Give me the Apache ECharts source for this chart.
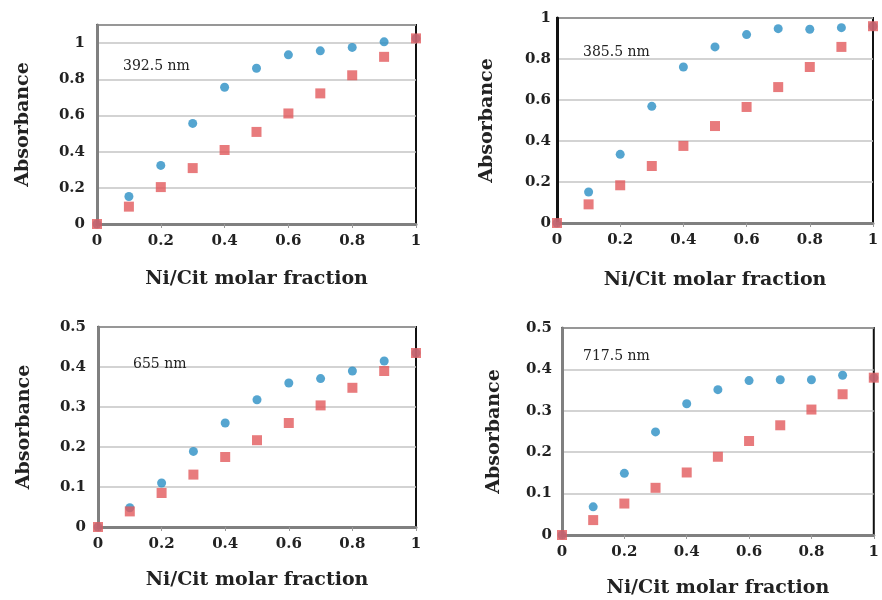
<!DOCTYPE html>
<html><head><meta charset="utf-8">
<script src="https://cdn.jsdelivr.net/npm/echarts@6/dist/echarts.min.js"></script>
<style>html,body{margin:0;padding:0;background:#fff}#c{width:882px;height:600px}</style>
</head><body><div id="c"></div>
<script>
const xs = [0, 0.1, 0.2, 0.3, 0.4, 0.5, 0.6, 0.7, 0.8, 0.9, 1];
const p1Blue = [0, 0.152, 0.324, 0.556, 0.756, 0.861, 0.935, 0.957, 0.976, 1.007, 1.026];
const p1Red  = [0, 0.096, 0.204, 0.309, 0.409, 0.509, 0.611, 0.722, 0.822, 0.924, 1.026];
const p2Blue = [0, 0.151, 0.335, 0.569, 0.761, 0.859, 0.919, 0.948, 0.945, 0.953, 0.96];
const p2Red  = [0, 0.091, 0.184, 0.278, 0.376, 0.473, 0.566, 0.663, 0.761, 0.859, 0.96];
const p3Blue = [0, 0.048, 0.11, 0.189, 0.26, 0.318, 0.36, 0.371, 0.39, 0.415, 0.435];
const p3Red  = [0, 0.039, 0.085, 0.131, 0.175, 0.217, 0.26, 0.304, 0.348, 0.39, 0.435];
const p4Blue = [0, 0.068, 0.149, 0.249, 0.317, 0.351, 0.373, 0.375, 0.375, 0.386, 0.38];
const p4Red  = [0, 0.036, 0.076, 0.114, 0.151, 0.189, 0.227, 0.265, 0.303, 0.34, 0.38];
const labels = ['392.5 nm', '385.5 nm', '655 nm', '717.5 nm'];
const xName = 'Ni/Cit molar fraction';
const yName = 'Absorbance';

const BLUE = '#2a8ec4', RED = '#e25a5c';
const FONT = 'DejaVu Serif';
const panels = [
  {grid: {left: 97, top: 25, width: 319, height: 199}, yMax: 1.1, yInt: 0.2, blue: p1Blue, red: p1Red, yGap: 64, xGap: 46, lbl: [118, 54], yLblMargin: 12},
  {grid: {left: 557, top: 18, width: 316, height: 205}, yMax: 1, yInt: 0.2, blue: p2Blue, red: p2Red, yGap: 60, xGap: 48, lbl: [578, 40], yLblMargin: 6},
  {grid: {left: 98, top: 327, width: 318, height: 200}, yMax: 0.5, yInt: 0.1, blue: p3Blue, red: p3Red, yGap: 64, xGap: 44, lbl: [128, 352], yLblMargin: 12},
  {grid: {left: 562, top: 328, width: 317, height: 207}, yMax: 0.5, yInt: 0.1, blue: p4Blue, red: p4Red, yGap: 58, xGap: 44, lbl: [578, 344], yLblMargin: 10}
];

const option = {
  backgroundColor: '#fff',
  animation: false,
  grid: [], xAxis: [], yAxis: [], series: [], title: []
};
panels.forEach((p, i) => {
  option.grid.push(Object.assign({show: true, borderColor: '#111', borderWidth: 2, backgroundColor: '#fff'}, p.grid));
  option.xAxis.push({
    type: 'value', gridIndex: i, min: 0, max: 1, interval: 0.2,
    name: xName, nameLocation: 'middle', nameGap: p.xGap,
    nameTextStyle: {fontFamily: FONT, fontWeight: 'bold', fontSize: 19, color: '#222'},
    axisLine: {show: true, onZero: false, lineStyle: {color: '#808080', width: 3}},
    axisTick: {show: true, length: 4, lineStyle: {color: '#999'}},
    axisLabel: {fontFamily: FONT, fontWeight: 'bold', fontSize: 15, color: '#222', margin: 10},
    splitLine: {show: false}
  });
  option.yAxis.push({
    type: 'value', gridIndex: i, min: 0, max: p.yMax, interval: p.yInt,
    name: yName, nameLocation: 'middle', nameGap: p.yGap,
    nameTextStyle: {fontFamily: FONT, fontWeight: 'bold', fontSize: 19, color: '#222'},
    axisLine: {show: true, onZero: false, lineStyle: {color: i === 1 ? '#111' : '#808080', width: 3}},
    axisTick: {show: false},
    axisLabel: {fontFamily: FONT, fontWeight: 'bold', fontSize: 15, color: '#222', margin: p.yLblMargin,
      formatter: v => (v > 1.05 ? '' : String(+v.toFixed(2)))},
    splitLine: {show: true, lineStyle: {color: '#c4c4c4', width: 1.5}}
  });
  option.series.push({
    type: 'scatter', xAxisIndex: i, yAxisIndex: i, symbol: 'circle', symbolSize: 9,
    itemStyle: {color: BLUE}, data: xs.map((x, k) => [x, p.blue[k]]), z: 3
  });
  option.series.push({
    type: 'scatter', xAxisIndex: i, yAxisIndex: i, symbol: 'rect', symbolSize: 10,
    itemStyle: {color: RED}, data: xs.map((x, k) => [x, p.red[k]]), z: 4
  });
  option.title.push({
    text: labels[i], left: p.lbl[0], top: p.lbl[1],
    textStyle: {fontFamily: FONT, fontWeight: 'normal', fontSize: 14, color: '#222'}
  });
});
const chart = echarts.init(document.getElementById('c'), null, {renderer: 'canvas'});
chart.setOption(option);
</script></body></html>
